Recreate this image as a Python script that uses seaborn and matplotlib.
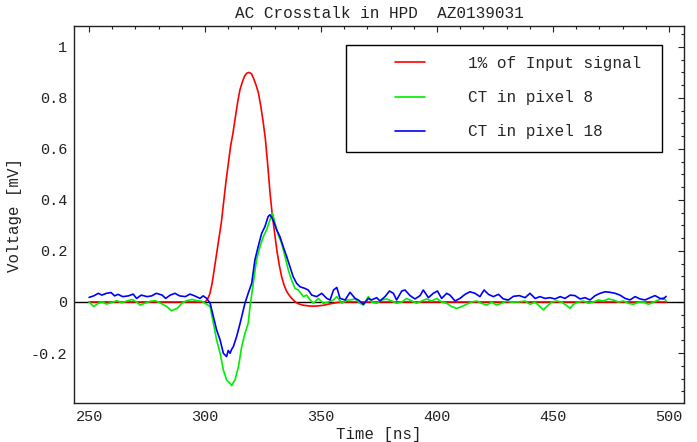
import numpy as np
import pandas as pd
import matplotlib
matplotlib.use("Agg")
import matplotlib.pyplot as plt
from matplotlib.patches import Rectangle
from matplotlib.ticker import MultipleLocator, FormatStrFormatter
import seaborn as sns

# 1% of input signal
red_t = [250, 300, 301, 302, 303, 304, 305, 306, 307, 308, 309, 310, 311, 312, 313,
         314, 315, 316, 317, 318, 319, 320, 321, 322, 323, 324, 325, 326, 327, 328,
         329, 330, 331, 332, 333, 334, 335, 336, 337, 338, 339, 340, 342, 345, 348,
         351, 354, 357, 360, 499]
red_v = [0, 0, 0.01, 0.03, 0.07, 0.13, 0.19, 0.25, 0.31, 0.39, 0.47, 0.54, 0.61, 0.66, 0.72,
         0.78, 0.83, 0.86, 0.885, 0.897, 0.90, 0.895, 0.875, 0.85, 0.82, 0.77, 0.71, 0.64, 0.54, 0.43,
         0.34, 0.27, 0.20, 0.145, 0.10, 0.068, 0.045, 0.03, 0.018, 0.008, 0.0, -0.006, -0.012, -0.016, -0.016,
         -0.013, -0.007, -0.002, 0, 0]

# CT in pixel 8
green_t = [250, 252, 254, 255.5, 257.5, 259.5, 262, 264, 266, 268.5, 270.5, 272, 274, 276.5,
           278.5, 280.5, 283.5, 285.5, 288, 290, 292, 294.5, 296.5, 298.5, 300, 302.2, 303.6,
           305, 306.5, 307.9, 309.3, 310.8, 311.5, 312.2, 312.9, 314.4, 315.8, 317.2, 318.6,
           319.4, 320.8, 322.2, 323.7, 325.1, 326.5, 328, 329.1, 330.2, 331.6, 333, 334.5,
           335.9, 337.3, 338.8, 340.2, 342.4, 343.8, 345.3, 346.7, 348.8, 351, 353.2, 355.4,
           356.8, 359, 361.1, 362.5, 364.7, 366.8, 368.3, 370.4, 371.8, 374, 376.1, 378.3,
           380.5, 382.6, 384.8, 386.9, 389.1, 391.2, 393.4, 395.5, 397.7, 399.9, 402, 404.2,
           406.3, 408.5, 410.6, 412.8, 414.9, 417.1, 419.2, 421.4, 423.6, 425.7, 427.9, 430,
           432.2, 434.3, 435.8, 438, 440.1, 442.3, 444.4, 445.9, 447.3, 449.5, 451.6, 453.8,
           455.9, 457.4, 458.8, 461, 463.1, 465.3, 467.4, 469.6, 471.7, 473.9, 476, 478.2,
           480.4, 482.5, 484.7, 486.8, 489, 491.1, 493.3, 495.4, 497.6, 498.8]
green_v = [0, -0.018, -0.005, 0.001, -0.008, -0.003, 0.005, -0.003, 0.003, 0.01, 0, -0.012, -0.005, 0.003,
           0.005, -0.003, -0.018, -0.034, -0.025, -0.005, 0.005, 0.01, 0.005, 0.003, -0.005, -0.018, -0.084,
           -0.149, -0.201, -0.267, -0.306, -0.319, -0.328, -0.315, -0.306, -0.254, -0.175, -0.123, -0.084,
           -0.018, 0.073, 0.165, 0.217, 0.256, 0.282, 0.322, 0.348, 0.308, 0.262, 0.23, 0.178,
           0.125, 0.086, 0.053, 0.047, 0.021, 0.027, 0.008, -0.005, 0.014, -0.005, 0, 0.008,
           0.021, -0.005, 0.008, 0.008, 0.012, -0.005, -0.012, 0.021, 0, -0.005, 0.008, 0.012,
           0.004, -0.005, 0, 0.014, 0.004, -0.005, 0.004, 0.012, 0.004, 0.014, 0, -0.005,
           -0.018, -0.025, -0.018, -0.009, 0, 0.004, -0.005, -0.012, -0.001, -0.012, -0.005, 0.004,
           -0.001, 0, 0.001, 0.004, -0.009, -0.001, -0.018, -0.031, -0.018, 0, 0.004, -0.001,
           -0.014, -0.025, -0.009, 0, 0.004, -0.005, 0, 0.008, 0.004, 0.012, 0.008, 0,
           0.004, -0.005, -0.009, -0.001, 0, -0.009, -0.001, 0.008, 0.017, 0.004]

# CT in pixel 18
blue_t = [250, 252, 254, 255.5, 257.5, 259.5, 261, 262.5, 264.5, 267, 269, 270.5, 272.5, 275,
          277, 279, 281.5, 283, 285, 287, 289, 291.5, 293.5, 295.5, 297.8, 299.2, 300.7, 302.2,
          303.6, 305, 306.5, 307.9, 309.3, 310, 310.8, 311.5, 312.2, 313.6, 315.1, 316, 317.2,
          318.6, 320.1, 321.5, 322.9, 324.4, 325.8, 327.2, 328, 329.4, 330.9, 332.3, 333.7,
          335.2, 336.6, 338, 339.5, 340.9, 343.1, 344.5, 346, 348.1, 350.3, 352.5, 353.9,
          355.4, 356.8, 358.2, 360.4, 362.5, 364.7, 366.1, 368.3, 370.4, 371.8, 374, 375.4,
          377.6, 379.5, 381.2, 382.6, 384.8, 386.2, 388.4, 390.5, 392.7, 394.1, 396.3, 398.4,
          400.2, 402, 404.2, 405.6, 407.8, 409.9, 412.1, 414.2, 416.4, 418.5, 420.3, 422.2,
          424.3, 426.5, 428.6, 430.8, 432.9, 435.5, 438, 440.1, 442.3, 444.4, 446.6, 448.7,
          450.9, 453.1, 455.2, 457.4, 459.5, 461.7, 463.8, 466, 468.2, 470.3, 472.5, 474.6,
          476.8, 478.9, 481.1, 483.2, 485.4, 487.5, 489.7, 491.9, 494, 496.2, 497.6, 498.8]
blue_v = [0.018, 0.024, 0.034, 0.027, 0.034, 0.037, 0.024, 0.030, 0.021, 0.024, 0.031, 0.014, 0.027, 0.021,
          0.024, 0.034, 0.027, 0.014, 0.027, 0.034, 0.024, 0.021, 0.031, 0.024, 0.014, 0.024, 0.014, -0.005,
          -0.057, -0.11, -0.149, -0.201, -0.214, -0.19, -0.201, -0.185, -0.175, -0.136, -0.084, -0.05, -0.005,
          0.034, 0.073, 0.165, 0.217, 0.269, 0.295, 0.335, 0.342, 0.32, 0.282, 0.256, 0.217,
          0.178, 0.138, 0.099, 0.073, 0.06, 0.053, 0.047, 0.027, 0.021, 0.034, 0.014, 0.008,
          0.047, 0.057, 0.014, 0.008, 0.038, 0.014, 0.008, -0.009, 0.014, 0.008, 0.017, 0.004,
          0.021, 0.043, 0.034, 0.008, 0.043, 0.047, 0.025, 0.012, 0.025, 0.047, 0.017, 0.034,
          0.043, 0.014, 0.034, 0.027, 0.004, 0.014, 0.03, 0.04, 0.034, 0.021, 0.047, 0.03,
          0.021, 0.03, 0.012, 0.008, 0.022, 0.025, 0.017, 0.034, 0.014, 0.021, 0.014, 0.017,
          0.012, 0.021, 0.014, 0.027, 0.025, 0.012, 0.017, 0.008, 0.025, 0.034, 0.04, 0.038,
          0.034, 0.027, 0.014, 0.008, 0.021, 0.012, 0.008, 0.017, 0.025, 0.014, 0.012, 0.022]

labels = ["1% of Input signal", "CT in pixel 8", "CT in pixel 18"]
colors = ["#ff0000", "#00ee00", "#0000ff"]

df = pd.concat([
    pd.DataFrame({"t": red_t, "v": red_v, "serie": labels[0]}),
    pd.DataFrame({"t": green_t, "v": green_v, "serie": labels[1]}),
    pd.DataFrame({"t": blue_t, "v": blue_v, "serie": labels[2]}),
])

sns.set_style("white")
plt.rcParams['font.family'] = ['Liberation Mono', 'DejaVu Sans Mono']
plt.rcParams['axes.unicode_minus'] = False

fig = plt.figure(figsize=(6.97, 4.42), dpi=100)
ax = fig.add_axes([74 / 697, 1 - 403 / 442, 610 / 697, 377 / 442])

ax.axhline(0, color='black', lw=1.0, zorder=1)
sns.lineplot(data=df, x="t", y="v", hue="serie", palette=dict(zip(labels, colors)),
             estimator=None, sort=False, lw=1.2, ax=ax, legend=False, zorder=2)

ax.set_xlim(243.5, 506.5)
ax.set_ylim(-0.396, 1.082)
ax.xaxis.set_major_locator(MultipleLocator(50))
ax.xaxis.set_minor_locator(MultipleLocator(10))
ax.yaxis.set_major_locator(MultipleLocator(0.2))
ax.yaxis.set_minor_locator(MultipleLocator(0.05))
ax.yaxis.set_major_formatter(FormatStrFormatter('%g'))
ax.tick_params(which='both', direction='in', top=True, right=True, colors='#222222',
               labelsize=11, width=0.8)
ax.tick_params(which='major', length=4.5, pad=5)
ax.tick_params(which='minor', length=2.5)
for s in ax.spines.values():
    s.set_color('#222222')
    s.set_linewidth(1.0)

ax.set_title('AC Crosstalk in HPD  AZ0139031', fontsize=11.5, pad=6, color='#222222')
ax.set_xlabel('Time [ns]', fontsize=11.3, labelpad=2, color='#222222')
ax.set_ylabel('Voltage [mV]', fontsize=11.3, labelpad=6, color='#222222')

# legend box
ax.add_patch(Rectangle((346 / 697, 1 - 152 / 442), 316 / 697, 107 / 442,
                       transform=fig.transFigure, facecolor='white', edgecolor='black',
                       lw=1.0, zorder=4, clip_on=False))
handles = [plt.Line2D([], [], color=c, lw=1.2) for c in colors]
ax.legend(handles, labels, loc='upper left', bbox_to_anchor=(395 / 697, 1 - 56 / 442),
          bbox_transform=fig.transFigure, frameon=False, borderpad=0, borderaxespad=0,
          handlelength=1.9, handletextpad=2.7, labelspacing=1.2, fontsize=11.5)

fig.savefig('out.png', dpi=100)
